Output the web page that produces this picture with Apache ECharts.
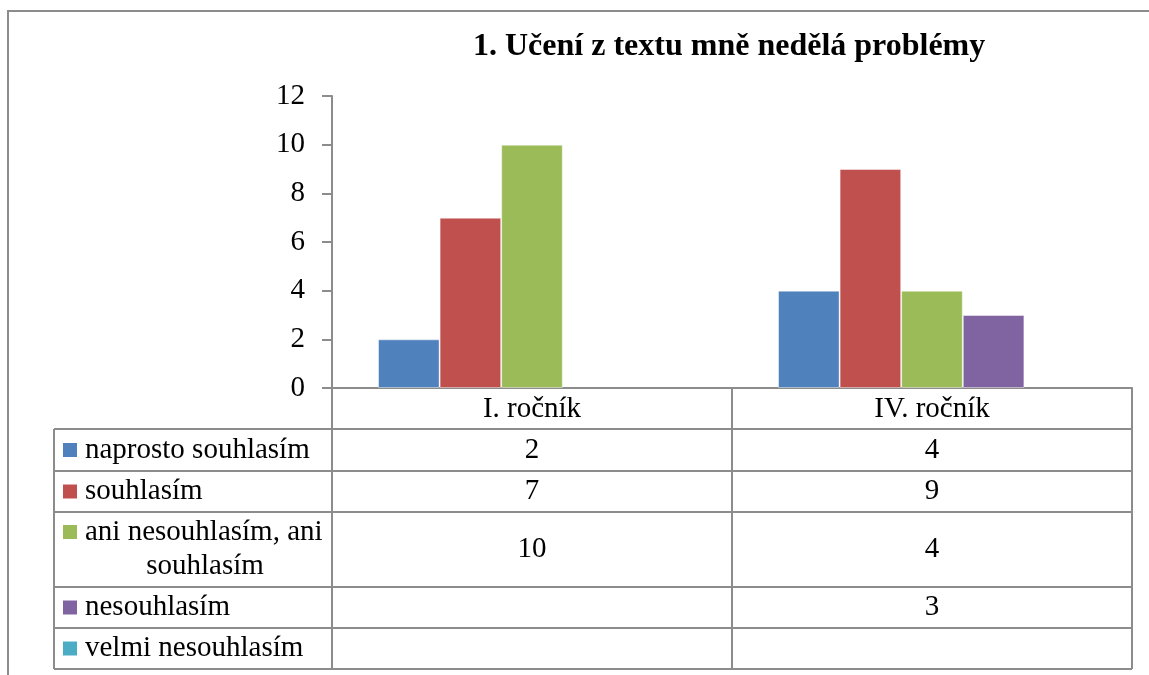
<!DOCTYPE html>
<html>
<head>
<meta charset="utf-8">
<script src="https://cdn.jsdelivr.net/npm/echarts@6/dist/echarts.min.js"></script>
<style>
  html, body { margin: 0; padding: 0; background: #fff; }
  #chart { width: 1149px; height: 675px; }
</style>
</head>
<body>
<div id="chart"></div>
<script>
// kategorie a hodnoty
const categories = ['I. ročník', 'IV. ročník'];
const seriesNames = ['naprosto souhlasím', 'souhlasím', 'ani nesouhlasím, ani souhlasím', 'nesouhlasím', 'velmi nesouhlasím'];
const naprostoSouhlasim = [2, 4];
const souhlasim = [7, 9];
const aniAni = [10, 4];
const nesouhlasim = [null, 3];
const velmiNesouhlasim = [null, null];
const yTicks = [0, 2, 4, 6, 8, 10, 12];

const seriesData = [naprostoSouhlasim, souhlasim, aniAni, nesouhlasim, velmiNesouhlasim];
const colors = ['#4F81BD', '#C0504D', '#9BBB59', '#8064A2', '#4BACC6'];

const FONT = '"Liberation Serif", "Times New Roman", serif';
const FS = 29;
const LINE = '#8c8c8c';

const chart = echarts.init(document.getElementById('chart'));

// rozložení tabulky pod grafem
const plotLeft = 332, plotTop = 96, plotWidth = 800, plotHeight = 292;
const tableLeft = 54;
const colEdges = [plotLeft, plotLeft + plotWidth / 2, plotLeft + plotWidth];
const rowEdges = [429, 471, 512, 587, 628, 669]; // pod hlavičkou
const headerTop = plotTop + plotHeight;

const graphic = [];

// vnější rámeček
graphic.push({
  type: 'rect',
  shape: { x: 8, y: 11, width: 1200, height: 720 },
  style: { fill: 'none', stroke: LINE, lineWidth: 2 },
  silent: true
});

function hline(x1, x2, y) {
  graphic.push({ type: 'line', shape: { x1: x1, y1: y, x2: x2, y2: y }, style: { stroke: LINE, lineWidth: 2 }, silent: true });
}
function vline(x, y1, y2) {
  graphic.push({ type: 'line', shape: { x1: x, y1: y1, x2: x, y2: y2 }, style: { stroke: LINE, lineWidth: 2 }, silent: true });
}

// mřížka tabulky
rowEdges.forEach(y => hline(tableLeft, colEdges[2], y));
vline(tableLeft, rowEdges[0], rowEdges[rowEdges.length - 1]);
colEdges.forEach(x => vline(x, headerTop, rowEdges[rowEdges.length - 1]));

// legenda + hodnoty v řádcích
seriesNames.forEach((name, i) => {
  const top = rowEdges[i], bottom = rowEdges[i + 1];
  const mid = (top + bottom) / 2;
  const twoLine = name === 'ani nesouhlasím, ani souhlasím';
  const firstY = twoLine ? top + 20 : mid;
  graphic.push({
    type: 'rect',
    shape: { x: 63, y: firstY - 7, width: 14, height: 14 },
    style: { fill: colors[i] },
    silent: true
  });
  if (twoLine) {
    graphic.push({
      type: 'text', x: 85, y: firstY,
      style: { text: 'ani nesouhlasím, ani', font: FS + 'px ' + FONT, fill: '#000', verticalAlign: 'middle', textAlign: 'left' },
      silent: true
    });
    graphic.push({
      type: 'text', x: 205, y: firstY + 34,
      style: { text: 'souhlasím', font: FS + 'px ' + FONT, fill: '#000', verticalAlign: 'middle', textAlign: 'center' },
      silent: true
    });
  } else {
    graphic.push({
      type: 'text', x: 85, y: firstY,
      style: { text: name, font: FS + 'px ' + FONT, fill: '#000', verticalAlign: 'middle', textAlign: 'left' },
      silent: true
    });
  }
  seriesData[i].forEach((v, c) => {
    if (v === null) return;
    graphic.push({
      type: 'text', x: (colEdges[c] + colEdges[c + 1]) / 2, y: mid,
      style: { text: String(v), font: FS + 'px ' + FONT, fill: '#000', verticalAlign: 'middle', textAlign: 'center' },
      silent: true
    });
  });
});

const option = {
  animation: false,
  backgroundColor: '#fff',
  title: {
    text: '1. Učení z textu mně nedělá problémy',
    left: 473,
    top: 31,
    padding: 0,
    textStyle: { fontFamily: FONT, fontSize: 32, fontWeight: 'bold', color: '#000' }
  },
  grid: { left: plotLeft, top: plotTop, width: plotWidth, height: plotHeight, containLabel: false },
  xAxis: {
    type: 'category',
    data: categories,
    axisLine: { lineStyle: { color: LINE, width: 2 } },
    axisTick: { show: false },
    axisLabel: { margin: 7, fontFamily: FONT, fontSize: FS, color: '#000' },
    splitLine: { show: false }
  },
  yAxis: {
    type: 'value',
    min: yTicks[0],
    max: yTicks[yTicks.length - 1],
    interval: 2,
    axisLine: { show: true, lineStyle: { color: LINE, width: 2 } },
    axisTick: { show: true, inside: false, length: 10, lineStyle: { color: LINE, width: 2 } },
    axisLabel: { margin: 27, fontFamily: FONT, fontSize: FS, color: '#000' },
    splitLine: { show: false }
  },
  series: seriesNames.map((name, i) => ({
    name: name,
    type: 'bar',
    data: seriesData[i],
    barGap: '0%',
    barCategoryGap: '23%',
    itemStyle: { color: colors[i], borderColor: 'rgba(255,255,255,0.45)', borderWidth: 1 }
  })),
  graphic: graphic
};

chart.setOption(option);
</script>
</body>
</html>
